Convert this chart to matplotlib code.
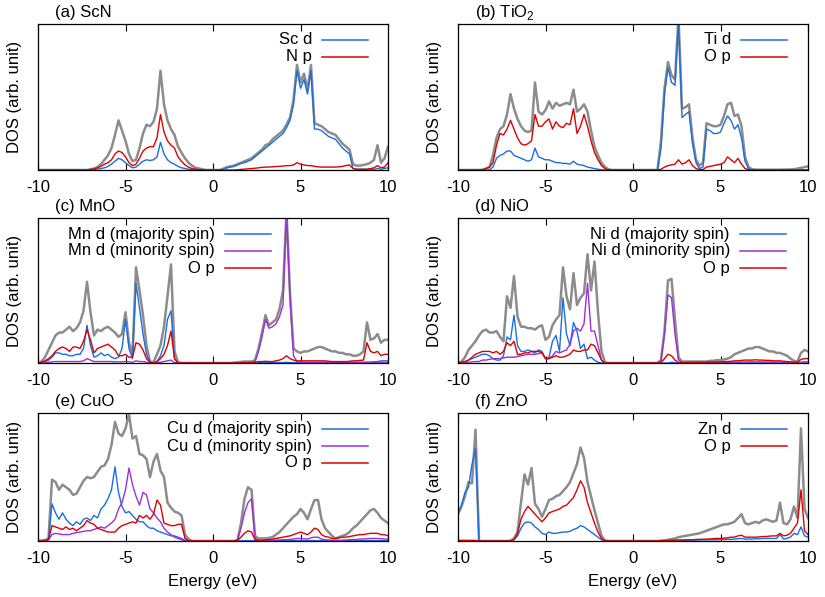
import numpy as np
import matplotlib
matplotlib.use("Agg")
import matplotlib.pyplot as plt

plt.rcParams['font.family'] = ['Liberation Sans', 'DejaVu Sans']
plt.rcParams['font.size'] = 12
plt.rcParams['axes.unicode_minus'] = False
plt.rcParams['mathtext.fontset'] = 'custom'
plt.rcParams['mathtext.rm'] = 'Liberation Sans'

# energy grid (eV), 0.2 eV steps from -10 to 10
energy = np.linspace(-10, 10, 101)

# ---- (a) ScN ----
scn_total = [0, 0, 0, 0, 0, 0, 0, 0, 0, 0,
             0, 0, 0, 0, 0, 0.5, 1, 2, 4, 7,
             10, 15, 24, 34, 27, 20, 11, 6, 7, 15,
             25, 31, 30, 33, 42, 68, 45, 34, 28, 24,
             16, 12, 8, 5, 3, 1.5, 1, 0.5, 0, 0,
             0, 0, 0, 1, 2, 2.5, 3, 4, 5, 6,
             7, 8, 10, 12, 14, 17, 18, 21, 23, 25,
             27, 31, 36, 48, 72, 60, 66, 55, 72, 32,
             31, 30, 28, 26, 25, 24, 21, 18, 16, 14,
             4, 3, 3, 3.5, 4, 5, 7, 17, 5, 8,
             16]
scn_sc_d = [0, 0, 0, 0, 0, 0, 0, 0, 0, 0,
            0, 0, 0, 0, 0, 0, 0.3, 0.6, 1, 1.5,
            2.5, 4, 6, 8, 7, 5, 3, 1.5, 2, 4,
            6, 7, 6.5, 7, 9, 19, 11, 7, 5, 4,
            2.5, 1.5, 1, 0.5, 0.3, 0.2, 0, 0, 0, 0,
            0, 0, 0, 0.5, 1.5, 2, 2.5, 3.5, 4.5, 5,
            6, 7, 9, 11, 13, 15, 17, 19, 21, 23,
            25, 29, 34, 45, 68, 56, 62, 52, 68, 28,
            28, 27, 25, 23, 22, 21, 18, 15, 13, 11,
            1, 0.5, 0.5, 0.5, 0.5, 0.5, 0.5, 1, 0.5, 1,
            1.5]
scn_n_p = [0, 0, 0, 0, 0, 0, 0, 0, 0, 0,
           0, 0, 0, 0, 0, 0.3, 0.8, 1.5, 2.5, 4,
           5, 7, 11, 13, 12, 9, 5, 3, 4, 8,
           13, 15, 16, 16, 22, 38, 26, 20, 17, 15,
           9, 6, 3.5, 2, 1, 0.5, 0.3, 0, 0, 0,
           0, 0, 0, 0, 0, 0, 0, 0.2, 0.4, 0.6,
           0.8, 1, 1.2, 1.5, 1.8, 2, 2, 2.2, 2.4, 2.5,
           2.7, 3, 3, 3.5, 5, 4, 3.5, 3, 3, 2.5,
           2.2, 2, 2, 2, 2, 2, 2.2, 2.5, 3, 3.5,
           1, 0.5, 0.5, 0.5, 0.5, 1, 1.5, 3, 1.5, 2,
           5]

# ---- (b) TiO2 ----
tio2_total = [0, 0, 0, 0, 0, 0, 0, 0.2, 1, 2,
              10, 22, 28, 30, 38, 52, 42, 35, 30, 27,
              26, 27, 60, 40, 38, 41, 47, 42, 46, 44,
              45, 46, 45, 55, 40, 42, 45, 40, 27, 16,
              10, 5, 2, 0.5, 0, 0, 0, 0, 0, 0,
              0, 0, 0, 0, 0, 0, 0, 0, 20, 56,
              74, 65, 62, 105, 42, 43, 45, 22, 7, 3,
              5, 32, 31, 30, 30, 31, 37, 45, 46, 37,
              38, 30, 9, 2, 0.5, 0.3, 0.2, 0.2, 0.2, 0.2,
              0.2, 0.2, 0.2, 0.3, 0.3, 0.4, 0.5, 1, 1.5, 2,
              2.5]
tio2_ti_d = [0, 0, 0, 0, 0, 0, 0, 0, 0, 0,
             2, 8, 10, 11, 13, 13, 10, 9, 8, 7,
             6, 7, 15, 9, 8, 7, 7, 6, 5, 5,
             4.5, 4.5, 4, 6, 4, 3.5, 3, 2, 1.5, 1,
             0.5, 0.2, 0, 0, 0, 0, 0, 0, 0, 0,
             0, 0, 0, 0, 0, 0, 0, 0, 15, 52,
             70, 60, 58, 102, 36, 38, 40, 18, 5, 1,
             2, 28, 27, 25, 25, 26, 32, 37, 34, 28,
             31, 22, 6, 1, 0, 0, 0, 0, 0, 0,
             0, 0, 0, 0, 0, 0, 0, 0, 0, 0,
             0]
tio2_o_p = [0, 0, 0, 0, 0, 0, 0, 0, 1, 2,
            5, 17, 25, 24, 28, 34, 28, 22, 18, 17,
            18, 20, 38, 30, 30, 33, 35, 28, 33, 30,
            29, 32, 31, 42, 25, 30, 38, 30, 20, 12,
            7, 3, 1, 0, 0, 0, 0, 0, 0, 0,
            0, 0, 0, 0, 0, 0, 0, 0, 0.5, 2,
            3, 3.5, 4, 7, 4, 5, 7, 3, 1, 0.3,
            0.3, 2, 2.5, 3, 3.5, 4, 5, 9, 7, 5,
            8, 4, 1, 0.2, 0, 0, 0, 0, 0, 0,
            0, 0, 0, 0, 0, 0, 0, 0, 0, 0,
            0]

# ---- (c) MnO ----
mno_total = [0, 1, 4, 9, 14, 19, 21, 21, 23, 25,
             22, 24, 28, 36, 56, 35, 19, 23, 22, 24,
             25, 23, 21, 18, 20, 35, 14, 6, 66, 50,
             33, 12, 1, 0.5, 6, 12, 25, 46, 68, 8,
             0.5, 0, 0, 0, 0, 0, 0, 0, 0, 0,
             0, 0, 0, 0, 0, 0, 0.3, 0.5, 0.8, 1,
             1, 1, 2, 10, 21, 33, 26, 28, 30, 37,
             50, 105, 48, 10, 8, 7, 8, 8, 9, 10,
             11, 11, 10, 9, 8, 8, 7, 7, 6, 6,
             5, 5, 6, 8, 28, 16, 17, 20, 14, 16,
             16]
mno_mn_d_up = [0, 0.5, 1, 2, 4, 7, 7, 6, 6, 5,
               5, 6, 6, 10, 26, 12, 4, 5, 7, 5,
               6, 4, 3, 4, 10, 30, 10, 3, 55, 38,
               20, 6, 0.5, 0, 1, 5, 12, 30, 36, 3,
               0, 0, 0, 0, 0, 0, 0, 0, 0, 0,
               0, 0, 0, 0, 0, 0, 0, 0, 0, 0,
               0, 0, 0, 0.2, 0.3, 0.3, 0.3, 0.3, 0.3, 0.3,
               0.3, 0.5, 0.3, 0.3, 0.3, 0.3, 0.3, 0.3, 0.3, 0.3,
               0.3, 0.3, 0.3, 0.3, 0.3, 0.3, 0.3, 0.3, 0.3, 0.3,
               0.3, 0.3, 0.3, 0.3, 0.5, 0.5, 0.8, 1, 1.5, 1.5,
               1.5]
mno_mn_d_dn = [0, 0, 0.3, 0.5, 0.8, 1, 1, 1, 1, 1,
               1, 1, 1, 1.5, 3, 2, 1, 1, 1, 1,
               1, 1, 0.8, 0.8, 0.8, 1, 0.8, 0.5, 1.5, 1,
               1, 0.5, 0, 0, 0.3, 0.5, 1, 1.5, 2, 0.3,
               0, 0, 0, 0, 0, 0, 0, 0, 0, 0,
               0, 0, 0, 0, 0, 0, 0, 0, 0, 0,
               0, 0, 1, 8, 18, 30, 24, 25, 27, 32,
               40, 105, 45, 5, 1, 0.5, 0.5, 0.5, 0.5, 0.5,
               0.5, 0.5, 0.5, 0.5, 0.5, 0.5, 0.5, 0.5, 0.5, 0.5,
               0.5, 0.5, 0.5, 0.5, 0.5, 0.5, 0.5, 0.5, 0.5, 0.5,
               0.5]
mno_o_p = [0, 0.5, 1.5, 3, 5, 8, 10, 11, 10, 8,
           11, 11, 10, 15, 23, 16, 7, 10, 11, 12,
           13, 11, 9, 5, 5, 6, 4, 4, 14, 13,
           9, 3, 0.5, 0, 1, 3, 6, 12, 22, 3,
           0, 0, 0, 0, 0, 0, 0, 0, 0, 0,
           0, 0, 0, 0, 0, 0, 0, 0, 0.2, 0.3,
           0.3, 0.5, 0.5, 1, 1, 1.2, 1, 1, 1.5, 2,
           3, 5, 3, 2, 1.5, 1.5, 1.5, 1.5, 1.5, 1.5,
           1.5, 1.5, 1.5, 1.2, 1, 1, 1, 1, 1, 1.2,
           1.5, 1.5, 1.8, 2, 14, 8, 7, 8, 5, 6,
           6]

# ---- (d) NiO ----
nio_total = [0, 1, 4, 9, 12, 15, 19, 22, 23, 21,
             21, 22, 18, 15, 46, 38, 60, 32, 25, 25,
             24, 24, 23, 25, 26, 16, 18, 26, 30, 33,
             66, 46, 37, 62, 40, 45, 48, 75, 50, 70,
             35, 8, 0.5, 0, 0, 0, 0, 0, 0, 0,
             0, 0, 0, 0, 0, 0, 0, 0, 2, 22,
             57, 58, 30, 4, 1, 1, 1, 1, 1, 1,
             1, 1, 1.5, 1.5, 2, 2, 2.5, 3, 4, 6,
             7, 8, 9, 10, 10, 11, 11, 10, 9, 8,
             8, 7, 7, 6, 5, 3, 1.5, 1, 7, 9,
             8]
nio_ni_d_up = [0, 0.3, 1, 2, 3, 4, 5, 6, 6, 5,
               3, 2, 2, 5, 18, 16, 33, 12, 8, 8,
               9, 8, 7, 9, 8, 3, 4, 15, 19, 8,
               45, 20, 12, 28, 22, 10, 13, 3, 4, 2,
               0.5, 0, 0, 0, 0, 0, 0, 0, 0, 0,
               0, 0, 0, 0, 0, 0, 0, 0, 0, 0,
               0, 0.5, 0.3, 0, 0, 0, 0, 0, 0, 0,
               0, 0, 0, 0, 0, 0, 0, 0, 0, 0,
               0, 0, 0, 0, 0, 0, 0, 0, 0, 0,
               0, 0, 0, 0, 0, 0, 0, 0, 0, 0,
               0]
nio_ni_d_dn = [0, 0, 0.5, 0.5, 0.8, 1, 1, 2, 2, 2.5,
               3, 3, 3, 3.5, 4, 4, 4, 4.5, 5, 5.5,
               6, 6, 6, 6.5, 7, 3, 3, 5, 8, 7,
               8, 9, 13, 22, 24, 22, 27, 55, 22, 22,
               12, 2, 0, 0, 0, 0, 0, 0, 0, 0,
               0, 0, 0, 0, 0, 0, 0, 0, 2, 20,
               47, 45, 20, 2, 0.5, 0.3, 0.3, 0.3, 0.3, 0.3,
               0.3, 0.3, 0.3, 0.3, 0.3, 0.4, 0.4, 0.5, 0.5, 0.6,
               0.6, 0.7, 0.7, 0.8, 0.8, 0.8, 0.8, 0.8, 0.7, 0.7,
               0.7, 0.6, 0.6, 0.5, 0.5, 0.4, 0.3, 0.3, 0.6, 0.8,
               0.8]
nio_o_p = [0, 0.5, 1, 2, 4, 6, 7, 8, 8, 8,
           7, 8, 6, 8, 14, 12, 15, 6, 6, 7,
           7, 8, 8, 8, 7, 3, 3, 4, 5, 4,
           4, 5, 6, 9, 8, 8, 9, 9, 13, 12,
           7, 2, 0, 0, 0, 0, 0, 0, 0, 0,
           0, 0, 0, 0, 0, 0, 0, 0, 0.3, 3,
           6, 5, 2, 0.3, 0.3, 0.4, 0.4, 0.5, 0.5, 0.5,
           0.6, 0.6, 0.7, 0.7, 0.8, 0.8, 1, 1, 1.2, 1.5,
           1.5, 1.8, 2, 2, 2, 2.2, 2, 2, 1.8, 1.8,
           1.5, 1.5, 1.5, 1.2, 1, 0.8, 0.5, 0.5, 2.5, 3,
           3]

# ---- (e) CuO ----
cuo_total = [0, 0.3, 0.8, 2, 48, 46, 40, 44, 42, 40,
             36, 37, 42, 47, 50, 49, 50, 54, 58, 59,
             64, 75, 93, 84, 82, 88, 99, 80, 82, 68,
             67, 64, 50, 62, 68, 55, 50, 30, 26, 23,
             22, 20, 5, 1.5, 0, 0, 0, 0, 0, 0,
             0, 0, 0, 0, 0, 0, 0, 0.5, 14, 33,
             42, 40, 4, 2, 2, 2, 2.5, 3, 5, 7,
             10, 13, 16, 19, 21, 25, 22, 17, 25, 32,
             32, 17, 10, 7, 4, 2, 3, 4, 5, 7,
             10, 12, 15, 18, 21, 24, 25, 22, 18, 16,
             14]
cuo_cu_d_up = [0, 0, 0.5, 1, 29, 22, 17, 22, 17, 14,
               12, 15, 13, 17, 18, 16, 20, 18, 25, 28,
               33, 40, 58, 38, 27, 22, 23, 20, 17, 15,
               15, 12, 10, 10, 8, 7, 6, 5, 4, 4,
               3, 2, 0.5, 0, 0, 0, 0, 0, 0, 0,
               0, 0, 0, 0, 0, 0, 0, 0.2, 0.3, 0.3,
               0.3, 0.3, 0.3, 0.3, 0.3, 0.3, 0.3, 0.3, 0.3, 0.3,
               0.3, 0.3, 0.3, 0.3, 0.3, 0.3, 0.3, 0.3, 0.3, 0.3,
               0.3, 0.3, 0.3, 0.3, 0.3, 0.3, 0.3, 0.3, 0.3, 0.3,
               0.3, 0.3, 0.3, 0.3, 0.3, 0.3, 0.3, 0.3, 0.3, 0.3,
               0.3]
cuo_cu_d_dn = [0, 0, 0.3, 1, 5, 6, 5.5, 5, 5, 5,
               6, 6.5, 7, 7.5, 8, 8, 9, 10, 11, 10,
               12, 14, 17, 25, 30, 40, 57, 44, 35, 28,
               38, 36, 25, 22, 18, 15, 10, 7, 5, 3,
               2, 1, 0, 0, 0, 0, 0, 0, 0, 0,
               0, 0, 0, 0, 0, 0, 0, 1, 10, 22,
               30, 33, 2, 0.5, 0.5, 0.5, 0.5, 0.6, 0.7, 0.8,
               1, 1, 1.2, 1.5, 2, 2, 1.8, 1.5, 2.5, 3,
               3, 1.5, 1, 0.8, 0.6, 0.5, 0.5, 0.6, 0.8, 1,
               1, 1.2, 1.5, 1.5, 1.8, 2, 2, 2, 1.8, 1.5,
               1.5]
cuo_o_p = [0, 0, 0, 1, 12, 11, 10, 9, 11, 9,
           10, 8, 10, 12, 16, 14, 13, 10, 9, 8,
           7, 7, 7, 10, 12, 13, 14, 15, 14, 20,
           18, 20, 17, 21, 32, 28, 14, 13, 12, 12,
           13, 13, 2, 0.3, 0, 0, 0, 0, 0, 0,
           0, 0, 0, 0, 0, 0, 0, 0.5, 3, 6,
           8, 7, 1, 0.5, 0.5, 1, 1, 1.5, 2, 2.5,
           3, 3.5, 4, 5, 6, 7, 6, 5, 7, 10,
           9, 5, 3.5, 3, 2, 2, 2.5, 3, 3, 3.5,
           4, 4.5, 5, 5, 5.5, 6, 6, 6, 5, 5,
           4]

# ---- (f) ZnO ----
zno_total = [21, 27, 35, 46, 45, 87, 0, 0, 0, 0,
             0, 0, 0, 0, 0, 0.3, 2, 7, 30, 52,
             44, 57, 29, 25, 19, 25, 32, 33, 35, 36,
             39, 42, 46, 53, 60, 73, 65, 46, 35, 24,
             14, 4, 0.5, 0, 0, 0, 0, 0, 0, 0,
             0, 0, 0, 0, 0, 0, 0, 0, 0.3, 0.5,
             1, 1.5, 2, 3, 3.5, 4, 4.5, 5, 5.5, 6,
             7, 8, 9, 10, 11, 12, 13, 13, 14, 15,
             18, 21, 14, 13, 14, 15, 14, 16, 17, 16,
             15, 16, 30, 14, 13, 17, 27, 18, 88, 25,
             18]
zno_zn_d = [22, 28, 38, 42, 60, 72, 0, 0, 0, 0,
            0, 0, 0, 0, 0, 0, 1, 4, 10, 14,
            15, 14, 11, 9, 6, 5, 7, 6, 6, 6.5,
            7, 7, 7.5, 9, 10, 12, 11, 9, 7, 5,
            3, 1, 0, 0, 0, 0, 0, 0, 0, 0,
            0, 0, 0, 0, 0, 0, 0, 0, 0.2, 0.3,
            0.3, 0.4, 0.5, 0.5, 0.5, 0.6, 0.6, 0.7, 0.7, 0.8,
            0.8, 0.9, 1, 1, 1, 1.2, 1.2, 1.3, 1.3, 1.5,
            1.8, 2, 1.5, 1.5, 1.5, 1.8, 1.8, 2, 2, 2,
            2, 2, 5, 1.5, 2, 3, 6, 5, 11, 4,
            3]
zno_o_p = [0.5, 0.5, 0.5, 0.5, 0.5, 0.5, 0, 0, 0, 0,
           0, 0, 0, 0, 0, 0, 1, 6, 17, 23,
           27, 24, 21, 18, 15, 18, 22, 23, 24, 25,
           27, 28, 31, 34, 40, 47, 42, 30, 22, 14,
           7, 2, 0, 0, 0, 0, 0, 0, 0, 0,
           0, 0, 0, 0, 0, 0, 0, 0, 0.2, 0.3,
           0.4, 0.5, 0.6, 0.7, 0.8, 0.9, 1, 1, 1.2, 1.3,
           1.4, 1.5, 1.6, 1.8, 2, 2, 2.2, 2.5, 3, 3,
           4, 4.5, 3, 3, 3, 3, 3.2, 3.5, 3.5, 3.8,
           4, 4, 6, 4, 4.5, 6, 10, 14, 40, 8,
           5]

GRAY = '#8c8c8c'
BLUE = '#1a6ee0'
PURPLE = '#9b30d8'
RED = '#e00000'

FIG_W, FIG_H = 825, 597
col_left = [38, 458]
col_width = 350
rows = [(24, 170), (218, 363), (413, 541)]

panels = [
    ('(a) ScN', scn_total, [(scn_sc_d, BLUE, 'Sc d'), (scn_n_p, RED, 'N p')], 0.783),
    (r'(b) TiO$_2$', tio2_total, [(tio2_ti_d, BLUE, 'Ti d'), (tio2_o_p, RED, 'O p')], 0.78),
    ('(c) MnO', mno_total, [(mno_mn_d_up, BLUE, 'Mn d (majority spin)'),
                            (mno_mn_d_dn, PURPLE, 'Mn d (minority spin)'),
                            (mno_o_p, RED, 'O p')], 0.506),
    ('(d) NiO', nio_total, [(nio_ni_d_up, BLUE, 'Ni d (majority spin)'),
                            (nio_ni_d_dn, PURPLE, 'Ni d (minority spin)'),
                            (nio_o_p, RED, 'O p')], 0.777),
    ('(e) CuO', cuo_total, [(cuo_cu_d_up, BLUE, 'Cu d (majority spin)'),
                            (cuo_cu_d_dn, PURPLE, 'Cu d (minority spin)'),
                            (cuo_o_p, RED, 'O p')], 0.783),
    ('(f) ZnO', zno_total, [(zno_zn_d, BLUE, 'Zn d'), (zno_o_p, RED, 'O p')], 0.78),
]


def draw_key(ax, parts, x_text, h_px):
    # gnuplot-like key: right aligned text, line sample to its right
    for i, (_, color, label) in enumerate(parts):
        y = 1 - (16 + 17 * i) / h_px
        ax.text(x_text, y, label, ha='right', va='center', transform=ax.transAxes)
        ax.plot([x_text + 0.029, x_text + 0.161], [y, y], color=color, lw=1.1,
                transform=ax.transAxes, clip_on=False)


fig = plt.figure(figsize=(FIG_W / 100, FIG_H / 100), dpi=100)

for n, (title, total, parts, key_x) in enumerate(panels):
    row, col = divmod(n, 2)
    top, bottom = rows[row]
    h_px = bottom - top
    ax = fig.add_axes([col_left[col] / FIG_W, 1 - bottom / FIG_H,
                       col_width / FIG_W, h_px / FIG_H])
    ax.plot(energy, total, color=GRAY, lw=1.8)
    for values, color, label in parts:
        ax.plot(energy, values, color=color, lw=1.0)
    ax.set_xlim(-10, 10)
    ax.set_ylim(0, 100)
    ax.set_xticks([-10, -5, 0, 5, 10])
    ax.set_yticks([])
    ax.tick_params(axis='x', direction='in', top=True, length=5, width=0.8, pad=7)
    for s in ax.spines.values():
        s.set_linewidth(0.9)
    ax.set_ylabel('DOS (arb. unit)', va='center')
    ax.yaxis.set_label_coords(-0.066, 0.5)
    ax.annotate(title, xy=(0, 1), xycoords='axes fraction', xytext=(12, 8),
                textcoords='offset points', ha='left', va='center')
    if row == 2:
        ax.set_xlabel('Energy (eV)', labelpad=6)
    draw_key(ax, parts, key_x, h_px)

fig.savefig('out.png', dpi=100)
